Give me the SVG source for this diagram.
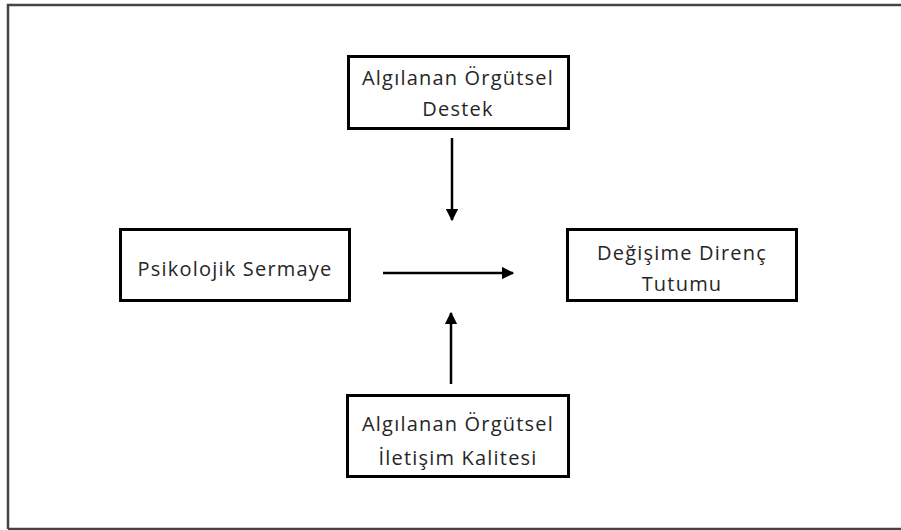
<svg xmlns="http://www.w3.org/2000/svg" width="901" height="530" viewBox="0 0 901 530">
<style>
.box{fill:#fff;stroke:#000;stroke-width:3}
.t{font-family:"Open Sans","Liberation Sans",sans-serif;font-size:20px;letter-spacing:1.2px;fill:#262626;text-anchor:middle;dominant-baseline:central}
.c{stroke:#000;stroke-width:2.5;fill:none}
</style>
<defs>
<marker id="ah" viewBox="0 0 10 10" refX="9" refY="5" markerWidth="5" markerHeight="5" orient="auto" markerUnits="strokeWidth">
<path d="M0,0 L10,5 L0,10 Z" fill="#000"/>
</marker>
</defs>
<rect x="0" y="0" width="901" height="530" fill="#fff"/>
<path d="M8,529 V5 H905" fill="none" stroke="#444" stroke-width="2.5"/>
<line x1="8" y1="529" x2="905" y2="529" stroke="#444" stroke-width="2.5"/>
<g id="destek">
<rect class="box" x="348.5" y="56.5" width="220" height="72"/>
<text class="t" x="458" y="77">Algılanan Örgütsel</text>
<text class="t" x="458" y="108">Destek</text>
</g>
<g id="psikolojik">
<rect class="box" x="120.5" y="229.5" width="229" height="71"/>
<text class="t" x="235" y="268">Psikolojik Sermaye</text>
</g>
<g id="direnc">
<rect class="box" x="567.5" y="229.5" width="229" height="71"/>
<text class="t" x="682" y="252">Değişime Direnç</text>
<text class="t" x="682" y="283">Tutumu</text>
</g>
<g id="iletisim">
<rect class="box" x="347.5" y="395.5" width="221" height="81"/>
<text class="t" x="458" y="423">Algılanan Örgütsel</text>
<text class="t" x="458" y="457">İletişim Kalitesi</text>
</g>
<g id="connectors">
<line class="c" x1="383" y1="273" x2="513" y2="273" marker-end="url(#ah)"/>
<line class="c" x1="452" y1="138" x2="452" y2="220" marker-end="url(#ah)"/>
<line class="c" x1="451" y1="384" x2="451" y2="313" marker-end="url(#ah)"/>
</g>
</svg>
